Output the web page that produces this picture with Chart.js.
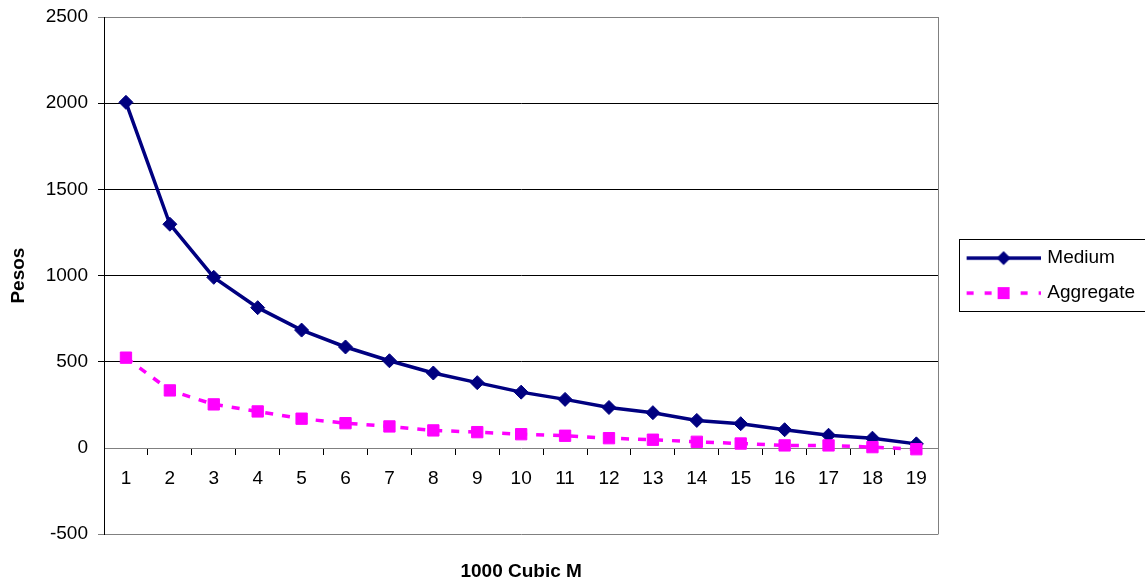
<!DOCTYPE html>
<html>
<head>
<meta charset="utf-8">
<script src="https://cdn.jsdelivr.net/npm/chart.js@4.4.1/dist/chart.umd.min.js"></script>
<style>
    html, body { margin: 0; padding: 0; background: #fff; }
    #wrap { width: 1145px; height: 585px; position: relative; }
</style>
</head>
<body>
<div id="wrap"><canvas id="costChart"></canvas></div>
<script>
var categories = ['1', '2', '3', '4', '5', '6', '7', '8', '9', '10', '11', '12', '13', '14', '15', '16', '17', '18', '19'];
var mediumValues = [2005, 1298, 990, 814, 684, 586, 506, 435, 379, 324, 282, 235, 205, 160, 141, 106, 74, 57, 24];
var aggregateValues = [524, 334, 253, 212, 170, 144, 125, 102, 92, 80, 71, 57, 48, 36, 26, 15, 15, 5, -7];
var yTicks = [-500, 0, 500, 1000, 1500, 2000, 2500];

(function () {
    var NAVY = '#000080';
    var PINK = '#FF00FF';

    Chart.defaults.font.family = '"Liberation Sans", Arial, sans-serif';
    Chart.defaults.font.size = 19;
    Chart.defaults.color = '#000';

    // legend samples: line with marker, drawn a bit to the right of the box centre
    function makeSample(kind) {
        var c = document.createElement('canvas');
        c.width = 89;
        c.height = 18;
        var g = c.getContext('2d');
        var mid = 52;
        g.lineWidth = 3.5;
        if (kind === 'medium') {
            g.strokeStyle = NAVY;
            g.beginPath();
            g.moveTo(15, 9);
            g.lineTo(89, 9);
            g.stroke();
            g.fillStyle = NAVY;
            g.beginPath();
            g.moveTo(mid, 2);
            g.lineTo(mid + 7, 9);
            g.lineTo(mid, 16);
            g.lineTo(mid - 7, 9);
            g.closePath();
            g.fill();
        } else {
            g.strokeStyle = PINK;
            g.setLineDash([7, 11]);
            g.beginPath();
            g.moveTo(15, 9);
            g.lineTo(89, 9);
            g.stroke();
            g.fillStyle = PINK;
            g.fillRect(mid - 6, 3, 12, 12);
        }
        return c;
    }

    var samples = [makeSample('medium'), makeSample('aggregate')];

    var frame = {
        id: 'frame',
        beforeDatasetsDraw: function (chart) {
            var a = chart.chartArea;
            var ctx = chart.ctx;
            ctx.save();
            ctx.strokeStyle = '#808080';
            ctx.lineWidth = 1;
            ctx.beginPath();
            ctx.moveTo(Math.round(a.right) + 0.5, a.top);
            ctx.lineTo(Math.round(a.right) + 0.5, a.bottom);
            ctx.stroke();
            ctx.restore();
        },
        afterDraw: function (chart) {
            var boxes = chart.legend && chart.legend.legendHitBoxes;
            if (!boxes || !boxes.length) return;
            var first = boxes[0];
            var last = boxes[boxes.length - 1];
            var ctx = chart.ctx;
            var x = Math.round(first.left + 5) + 0.5;
            var y = Math.round(first.top - 10) + 0.5;
            var b = Math.round(last.top + last.height + 8) + 0.5;
            ctx.save();
            ctx.strokeStyle = '#000';
            ctx.lineWidth = 1;
            ctx.strokeRect(x, y, chart.width + 10 - x, b - y);
            ctx.restore();
        }
    };

    new Chart(document.getElementById('costChart').getContext('2d'), {
        type: 'line',
        data: {
            labels: categories,
            datasets: [{
                label: 'Medium',
                data: mediumValues,
                borderColor: NAVY,
                backgroundColor: NAVY,
                borderWidth: 3.5,
                pointStyle: 'rectRot',
                pointRadius: 7,
                pointBackgroundColor: NAVY,
                pointBorderColor: NAVY,
                pointBorderWidth: 1,
                tension: 0,
                fill: false,
                order: 2
            }, {
                label: 'Aggregate',
                data: aggregateValues,
                borderColor: PINK,
                backgroundColor: PINK,
                borderWidth: 3.5,
                borderDash: [8, 9],
                pointStyle: 'rect',
                pointRadius: 8,
                pointBackgroundColor: PINK,
                pointBorderColor: PINK,
                pointBorderWidth: 1,
                tension: 0,
                fill: false,
                order: 1
            }]
        },
        options: {
            responsive: true,
            maintainAspectRatio: false,
            animation: false,
            layout: { padding: { top: 17, right: 0, bottom: 2, left: 0 } },
            plugins: {
                tooltip: { enabled: false },
                legend: {
                    position: 'right',
                    align: 'center',
                    fullSize: false,
                    labels: {
                        usePointStyle: true,
                        pointStyleWidth: 83.5,
                        padding: 16,
                        color: '#000',
                        font: { size: 19 },
                        sort: function (a, b) { return a.datasetIndex - b.datasetIndex; },
                        generateLabels: function (chart) {
                            var items = Chart.defaults.plugins.legend.labels.generateLabels(chart);
                            items.forEach(function (it) {
                                it.pointStyle = samples[it.datasetIndex];
                                it.rotation = 0;
                            });
                            return items;
                        }
                    }
                },
                title: {
                    display: true,
                    text: '1000 Cubic M',
                    position: 'bottom',
                    fullSize: false,
                    color: '#000',
                    font: { size: 19, weight: 'bold' },
                    padding: { top: 26, bottom: 0 }
                }
            },
            scales: {
                x: {
                    type: 'category',
                    position: { y: 0 },
                    offset: true,
                    grid: {
                        offset: true,
                        drawOnChartArea: false,
                        drawTicks: true,
                        tickLength: 6,
                        color: '#000'
                    },
                    border: { color: '#808080', width: 1 },
                    ticks: { padding: 13, maxRotation: 0, autoSkip: false, color: '#000' }
                },
                y: {
                    min: -500,
                    max: 2500,
                    afterBuildTicks: function (scale) {
                        scale.ticks = yTicks.map(function (v) { return { value: v }; });
                    },
                    afterFit: function (scale) {
                        scale.width = 104;
                        // label overhang only, without the tick padding
                        scale.paddingTop = 12;
                        scale.paddingBottom = 12;
                    },
                    grid: {
                        tickLength: 6,
                        color: function (c) {
                            var v = c.tick && c.tick.value;
                            return (v === 2500 || v === -500) ? '#808080' : (v === 0 ? 'rgba(0,0,0,0)' : '#000');
                        }
                    },
                    border: { color: '#000', width: 1 },
                    ticks: {
                        padding: 10,
                        color: '#000',
                        callback: function (v) { return String(v); }
                    },
                    title: {
                        display: true,
                        text: 'Pesos',
                        color: '#000',
                        font: { size: 19, weight: 'bold' },
                        padding: { top: 7, bottom: 0 }
                    }
                }
            }
        },
        plugins: [frame]
    });
})();
</script>
</body>
</html>
